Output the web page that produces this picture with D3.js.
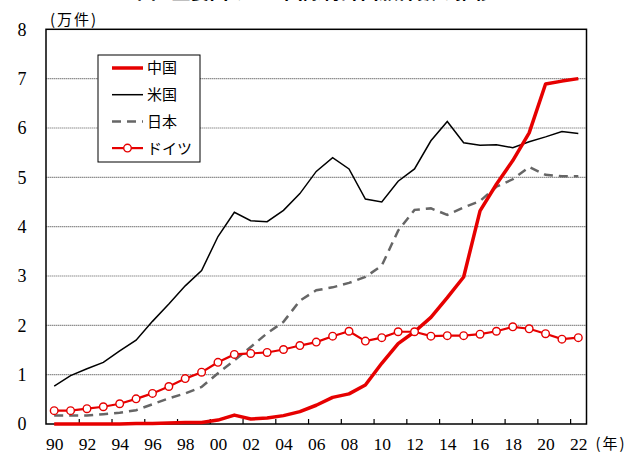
<!DOCTYPE html>
<html>
<head>
<meta charset="utf-8">
<script src="https://cdn.jsdelivr.net/npm/d3@7"></script>
<style>
  body { margin: 0; background: #fff; }
  svg { display: block; }
  .num text { font-family: "Liberation Serif", "Times New Roman", serif; font-size: 18px; fill: #000; }
  .jp { font-family: "Noto Sans CJK JP", sans-serif; font-size: 14px; fill: #000; }
</style>
</head>
<body>
<div id="chart"></div>
<script>
// years and values (万件)
const years = d3.range(1990, 2023);
const china = [0.0, 0.0, 0.0, 0.0, 0.0, 0.01, 0.01, 0.02, 0.03, 0.03, 0.08, 0.18, 0.1, 0.12, 0.17, 0.25, 0.38, 0.54, 0.61, 0.79, 1.23, 1.63, 1.87, 2.16, 2.56, 2.98, 4.32, 4.86, 5.34, 5.9, 6.89, 6.95, 7.0];
const usa = [0.77, 0.98, 1.12, 1.25, 1.48, 1.7, 2.08, 2.43, 2.8, 3.11, 3.8, 4.29, 4.12, 4.1, 4.33, 4.67, 5.12, 5.4, 5.17, 4.56, 4.5, 4.92, 5.17, 5.74, 6.13, 5.7, 5.65, 5.66, 5.6, 5.72, 5.82, 5.93, 5.89];
const japan = [0.17, 0.17, 0.17, 0.2, 0.23, 0.28, 0.4, 0.52, 0.62, 0.75, 1.03, 1.29, 1.56, 1.84, 2.07, 2.5, 2.71, 2.77, 2.86, 2.98, 3.21, 3.92, 4.34, 4.37, 4.24, 4.39, 4.52, 4.81, 4.96, 5.21, 5.05, 5.02, 5.02];
const germany = [0.27, 0.27, 0.31, 0.35, 0.41, 0.51, 0.62, 0.76, 0.92, 1.05, 1.25, 1.41, 1.43, 1.45, 1.51, 1.59, 1.66, 1.78, 1.88, 1.68, 1.75, 1.87, 1.87, 1.78, 1.79, 1.79, 1.82, 1.88, 1.97, 1.93, 1.83, 1.72, 1.75];
const legendLabels = ['中国', '米国', '日本', 'ドイツ'];
const yTicks = [0, 1, 2, 3, 4, 5, 6, 7, 8];
const xLabelYears = d3.range(1990, 2023, 2);
const xTickYears = d3.range(1991.5, 2022, 2);

const width = 631, height = 454;
const plotLeft = 46, plotRight = 586.5, plotTop = 29.3, plotBottom = 424;

const svg = d3.select('#chart').append('svg')
    .attr('width', width)
    .attr('height', height);

const x = d3.scaleLinear().domain([1989.5, 2022.5]).range([plotLeft, plotRight]);
const y = d3.scaleLinear().domain([0, 8]).range([plotBottom, plotTop]);

// title (cut off at the top of the picture)
svg.append('text')
    .attr('x', 315)
    .attr('y', -1)
    .attr('text-anchor', 'middle')
    .attr('font-family', '"Noto Sans CJK JP", sans-serif')
    .attr('font-weight', 'bold')
    .attr('font-size', '19px')
    .text('図1 主要国のPCT国際特許出願件数の推移');

// gridlines
svg.append('g')
    .selectAll('line')
    .data(yTicks.filter(d => d > 0 && d < 8))
    .join('line')
    .attr('x1', plotLeft).attr('x2', plotRight)
    .attr('y1', d => y(d)).attr('y2', d => y(d))
    .attr('stroke', '#8f8f8f')
    .attr('stroke-width', 1.2)
    .attr('stroke-dasharray', '1.5,0.5');

// y axis labels
svg.append('g')
    .attr('class', 'num')
    .attr('transform', `translate(${plotLeft - 16},0)`)
    .call(d3.axisLeft(y).tickValues(yTicks).tickSize(0).tickFormat(d3.format('d')))
    .call(g => g.select('.domain').remove())
    .selectAll('text')
    .attr('text-anchor', 'middle')
    .attr('x', -8)
    .style('font-size', '18px')
    .style('font-family', '"Liberation Serif", serif');

// x tick marks (inward)
svg.append('g')
    .attr('transform', `translate(0,${plotBottom})`)
    .call(d3.axisBottom(x).tickValues(xTickYears).tickSizeInner(-5).tickSizeOuter(0).tickFormat(''))
    .call(g => g.select('.domain').remove())
    .selectAll('line')
    .attr('stroke', '#000')
    .attr('stroke-width', 1.2);

// x labels
svg.append('g')
    .attr('class', 'num')
    .attr('transform', `translate(0,${plotBottom + 11})`)
    .call(d3.axisBottom(x).tickValues(xLabelYears).tickSize(0).tickFormat(d => String(d % 100).padStart(2, '0')))
    .call(g => g.select('.domain').remove())
    .selectAll('text')
    .style('font-size', '17.5px')
    .style('font-family', '"Liberation Serif", serif');

svg.append('text')
    .attr('class', 'jp')
    .attr('x', 611)
    .attr('y', 449)
    .attr('text-anchor', 'middle')
    .style('font-size', '15px')
    .style('letter-spacing', '2px')
    .text('(年)');

svg.append('text')
    .attr('class', 'jp')
    .attr('x', 74)
    .attr('y', 25)
    .attr('text-anchor', 'middle')
    .style('font-size', '15px')
    .style('letter-spacing', '2px')
    .text('(万件)');

// plot frame
svg.append('rect')
    .attr('x', plotLeft).attr('y', plotTop)
    .attr('width', plotRight - plotLeft).attr('height', plotBottom - plotTop)
    .attr('fill', 'none')
    .attr('stroke', '#000')
    .attr('stroke-width', 1.5);

const line = d3.line()
    .x((d, i) => x(years[i]))
    .y(d => y(d));

const red = '#e60000';

svg.append('path')
    .datum(usa)
    .attr('d', line)
    .attr('fill', 'none')
    .attr('stroke', '#000')
    .attr('stroke-width', 1.5);

svg.append('path')
    .datum(japan)
    .attr('d', line)
    .attr('fill', 'none')
    .attr('stroke', '#666')
    .attr('stroke-width', 2.5)
    .attr('stroke-dasharray', '9,6');

svg.append('path')
    .datum(china)
    .attr('d', line)
    .attr('fill', 'none')
    .attr('stroke', red)
    .attr('stroke-width', 3.5)
    .attr('stroke-linejoin', 'round');

svg.append('path')
    .datum(germany)
    .attr('d', line)
    .attr('fill', 'none')
    .attr('stroke', red)
    .attr('stroke-width', 2.2);

svg.append('g')
    .selectAll('circle')
    .data(germany)
    .join('circle')
    .attr('cx', (d, i) => x(years[i]))
    .attr('cy', d => y(d))
    .attr('r', 3.8)
    .attr('fill', '#fff')
    .attr('stroke', red)
    .attr('stroke-width', 1.4);

// legend
const legendStyles = [
    { color: red, width: 3.5, dash: null, marker: false },
    { color: '#000', width: 1.5, dash: null, marker: false },
    { color: '#666', width: 2.5, dash: '9,6', marker: false },
    { color: red, width: 2.2, dash: null, marker: true }
];

const legend = svg.append('g').attr('transform', 'translate(98,55)');
legend.append('rect')
    .attr('width', 102)
    .attr('height', 107)
    .attr('fill', '#fff')
    .attr('stroke', '#000')
    .attr('stroke-width', 1);

const items = legend.selectAll('.legend-item')
    .data(legendLabels)
    .join('g')
    .attr('class', 'legend-item')
    .attr('transform', (d, i) => `translate(0,${13 + i * 26.7})`);

items.append('line')
    .attr('x1', 14).attr('x2', 45)
    .attr('stroke', (d, i) => legendStyles[i].color)
    .attr('stroke-width', (d, i) => legendStyles[i].width)
    .attr('stroke-dasharray', (d, i) => legendStyles[i].dash);

items.filter((d, i) => legendStyles[i].marker)
    .append('circle')
    .attr('cx', 29.5)
    .attr('r', 3.8)
    .attr('fill', '#fff')
    .attr('stroke', red)
    .attr('stroke-width', 1.4);

items.append('text')
    .attr('class', 'jp')
    .attr('x', 49)
    .attr('dy', '0.36em')
    .style('font-size', '15px')
    .text(d => d);
</script>
</body>
</html>
